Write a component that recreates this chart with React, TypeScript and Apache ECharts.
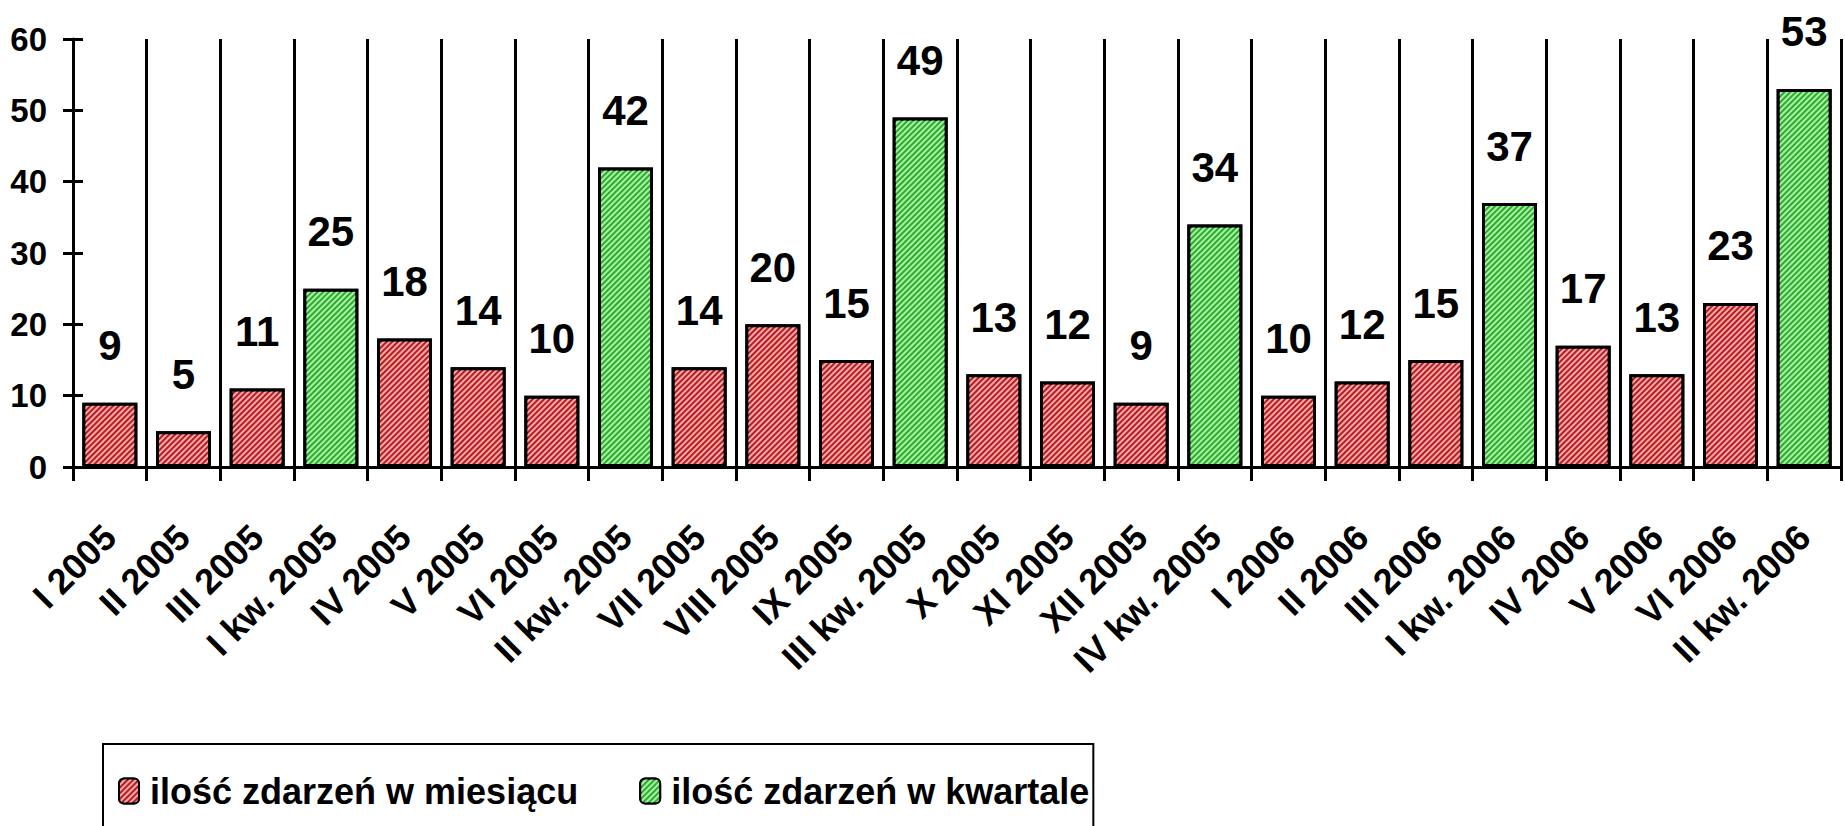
import React, { useEffect, useRef } from "react";
import * as echarts from "echarts";

const categories = [
  "I 2005", "II 2005", "III 2005", "I kw. 2005", "IV 2005", "V 2005", "VI 2005", "II kw. 2005",
  "VII 2005", "VIII 2005", "IX 2005", "III kw. 2005", "X 2005", "XI 2005", "XII 2005", "IV kw. 2005",
  "I 2006", "II 2006", "III 2006", "I kw. 2006", "IV 2006", "V 2006", "VI 2006", "II kw. 2006",
];
const monthly: (number | string)[] = [
  9, 5, 11, "-", 18, 14, 10, "-", 14, 20, 15, "-", 13, 12, 9, "-", 10, 12, 15, "-", 17, 13, 23, "-",
];
const quarterly: (number | string)[] = [
  "-", "-", "-", 25, "-", "-", "-", 42, "-", "-", "-", 49, "-", "-", "-", 34, "-", "-", "-", 37, "-", "-", "-", 53,
];
const seriesNames = ["ilość zdarzeń w miesiącu", "ilość zdarzeń w kwartale"];
const yTicks = { min: 0, max: 60, interval: 10 };

const FONT = "'Liberation Sans', Arial, sans-serif";

export default function App() {
  const ref = useRef<HTMLDivElement>(null);
  useEffect(() => {
    document.body.style.margin = "0";
    const chart = echarts.init(ref.current!, null, { renderer: "svg" });
    const valueLabel = {
      show: true,
      position: "top",
      distance: 36,
      color: "#000",
      fontFamily: FONT,
      fontWeight: "bold",
      fontSize: 42,
    };
    const mkDecal = (c: string) => ({
      symbol: "rect",
      symbolSize: 1,
      color: c,
      dashArrayX: [1, 0],
      dashArrayY: [2, 2],
      rotation: -Math.PI / 4,
    });
    chart.setOption({
      animation: false,
      backgroundColor: "#fff",
      grid: { left: 73, right: 4, top: 39, bottom: 359, containLabel: false },
      legend: {
        left: 103,
        top: 744,
        orient: "horizontal",
        padding: [29, 4, 40, 15],
        borderColor: "#000",
        borderWidth: 2,
        itemWidth: 20,
        itemHeight: 25,
        itemGap: 61,
        textStyle: {
          color: "#000",
          fontFamily: FONT,
          fontWeight: 700,
          fontSize: 36,
          padding: [0, 0, 0, 6],
        },
        data: seriesNames,
      },
      xAxis: {
        type: "category",
        data: categories,
        boundaryGap: true,
        axisLine: { show: true, lineStyle: { color: "#000", width: 3 } },
        axisTick: { show: true, length: 14, lineStyle: { color: "#000", width: 3 } },
        splitLine: { show: true, lineStyle: { color: "#000", width: 3 } },
        axisLabel: {
          interval: 0,
          rotate: 45,
          margin: 64,
          color: "#000",
          fontFamily: FONT,
          fontWeight: "bold",
          fontSize: 36,
        },
      },
      yAxis: [
        {
          type: "value",
          ...yTicks,
          axisLine: { show: true, lineStyle: { color: "#000", width: 3 } },
          axisTick: { show: true, length: 10, lineStyle: { color: "#000", width: 3 } },
          splitLine: { show: false },
          axisLabel: {
            margin: 26,
            color: "#000",
            fontFamily: FONT,
            fontWeight: "bold",
            fontSize: 33,
          },
        },
        {
          type: "value",
          position: "left",
          ...yTicks,
          axisLine: { show: false },
          axisTick: { show: true, inside: true, length: 10, lineStyle: { color: "#000", width: 3 } },
          splitLine: { show: false },
          axisLabel: { show: false },
        },
      ],
      series: [
        {
          name: seriesNames[0],
          type: "bar",
          data: monthly,
          barWidth: 55,
          barGap: "-100%",
          itemStyle: {
            color: "#b81c20",
            borderColor: "#000",
            borderWidth: 3,
            decal: mkDecal("#f2aaaa"),
          },
          label: valueLabel,
        },
        {
          name: seriesNames[1],
          type: "bar",
          data: quarterly,
          barWidth: 55,
          barGap: "-100%",
          itemStyle: {
            color: "#2aae2a",
            borderColor: "#000",
            borderWidth: 3,
            decal: mkDecal("#aaeeaa"),
          },
          label: valueLabel,
        },
      ],
    });
    return () => chart.dispose();
  }, []);
  return (
    <div
      ref={ref}
      style={{ position: "fixed", left: 0, top: 0, width: 1845, height: 826 }}
    />
  );
}
